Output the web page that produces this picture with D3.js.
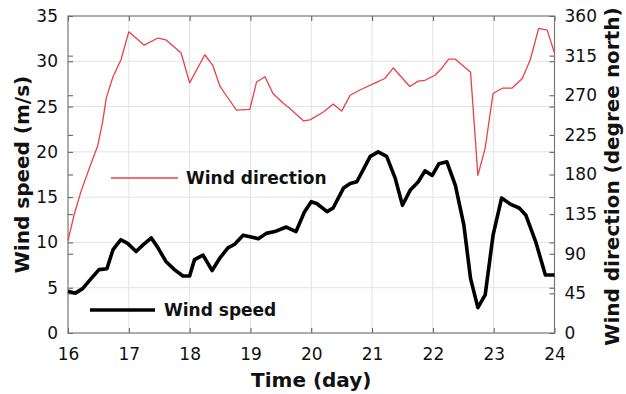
<!DOCTYPE html>
<html>
<head>
<meta charset="utf-8">
<script src="https://cdn.jsdelivr.net/npm/d3@7"></script>
<style>
  html, body { margin: 0; padding: 0; background: #fff; }
  svg { display: block; }
  text { font-family: "DejaVu Sans", Verdana, sans-serif; fill: #111; }
</style>
</head>
<body>
<svg id="chart" width="626" height="394"></svg>
<script>
// Wind direction (degrees from north) sampled along days 16–24
const dirDays = [16.00, 16.10, 16.21, 16.35, 16.49, 16.57, 16.63, 16.74, 16.87, 17.00,
  17.25, 17.48, 17.61, 17.86, 18.00, 18.25, 18.38, 18.50, 18.60, 18.77,
  18.99, 19.10, 19.24, 19.37, 19.54, 19.65, 19.87, 19.98, 20.20, 20.36,
  20.50, 20.64, 20.80, 21.08, 21.21, 21.35, 21.62, 21.76, 21.87, 22.04,
  22.15, 22.26, 22.37, 22.62, 22.74, 22.86, 22.99, 23.14, 23.30, 23.47,
  23.60, 23.74, 23.88, 24.00];
const dirValues = [105, 134, 160, 187, 213, 240, 267, 291, 310, 342,
  327, 335, 333, 318, 284, 316, 304, 280, 270, 253,
  254, 285, 291, 272, 261, 255, 241, 242, 251, 260,
  252, 270, 276, 285, 289, 301, 280, 286, 287, 293,
  301, 311, 311, 296, 179, 210, 272, 278, 278, 289,
  310, 346, 344, 318];

// Wind speed (m/s) sampled along days 16–24
const speedDays = [16.00, 16.12, 16.24, 16.38, 16.51, 16.64, 16.74, 16.87, 16.98, 17.12,
  17.23, 17.37, 17.48, 17.61, 17.75, 17.89, 18.00, 18.08, 18.22, 18.37,
  18.50, 18.63, 18.74, 18.88, 19.01, 19.13, 19.26, 19.40, 19.59, 19.75,
  19.89, 20.00, 20.09, 20.26, 20.36, 20.53, 20.64, 20.75, 20.97, 21.10,
  21.24, 21.38, 21.50, 21.63, 21.76, 21.87, 21.99, 22.10, 22.23, 22.37,
  22.51, 22.62, 22.74, 22.86, 22.99, 23.13, 23.28, 23.42, 23.53, 23.69,
  23.85, 24.00];
const speedValues = [4.6, 4.4, 4.9, 6.0, 7.0, 7.1, 9.2, 10.3, 9.9, 9.0,
  9.7, 10.5, 9.4, 7.9, 7.0, 6.3, 6.3, 8.1, 8.6, 6.9,
  8.3, 9.4, 9.8, 10.8, 10.6, 10.4, 11.0, 11.2, 11.7, 11.2,
  13.4, 14.5, 14.3, 13.4, 13.8, 16.0, 16.5, 16.7, 19.5, 20.0,
  19.5, 17.1, 14.1, 15.8, 16.7, 17.9, 17.4, 18.7, 18.9, 16.3,
  11.9, 6.0, 2.8, 4.2, 10.8, 14.9, 14.2, 13.8, 13.0, 10.1,
  6.4, 6.4];

// Axis ticks
const dayTicks = [16, 17, 18, 19, 20, 21, 22, 23, 24];
const speedTicks = [0, 5, 10, 15, 20, 25, 30, 35];
const dirTicks = [0, 45, 90, 135, 180, 225, 270, 315, 360];

// Legend labels
const legendLabels = ["Wind direction", "Wind speed"];

const W = 626, H = 394;
const m = { left: 68, right: 71.5, top: 16, bottom: 61 };
const iw = W - m.left - m.right, ih = H - m.top - m.bottom;

const svg = d3.select("#chart");
const g = svg.append("g").attr("transform", `translate(${m.left},${m.top})`);

const x = d3.scaleLinear().domain([16, 24]).range([0, iw]);
const yL = d3.scaleLinear().domain([0, 35]).range([ih, 0]);
const yR = d3.scaleLinear().domain([0, 360]).range([ih, 0]);

// grid
const grid = g.append("g").attr("stroke", "#e3e3e3").attr("stroke-width", 1);
grid.selectAll("line.v").data(dayTicks.slice(1, -1)).join("line")
  .attr("x1", d => x(d)).attr("x2", d => x(d)).attr("y1", 0).attr("y2", ih);
grid.selectAll("line.h").data(speedTicks.slice(1, -1)).join("line")
  .attr("x1", 0).attr("x2", iw).attr("y1", d => yL(d)).attr("y2", d => yL(d));

// axes (ticks drawn inward)
const tickLen = 5;
const fontSize = 17;
function styleAxis(sel) {
  sel.select(".domain").remove();
  sel.selectAll(".tick line").attr("stroke", "#555");
  sel.selectAll(".tick text").attr("font-size", fontSize).attr("fill", "#1a1a1a")
    .attr("font-family", "'DejaVu Sans', Verdana, sans-serif");
}

g.append("g").attr("transform", `translate(0,${ih})`)
  .call(d3.axisBottom(x).tickValues(dayTicks).tickFormat(d3.format("d"))
    .tickSizeInner(-tickLen).tickSizeOuter(0).tickPadding(15))
  .call(styleAxis);
g.append("g")
  .call(d3.axisTop(x).tickValues(dayTicks).tickFormat("")
    .tickSizeInner(-tickLen).tickSizeOuter(0))
  .call(styleAxis);

g.append("g")
  .call(d3.axisLeft(yL).tickValues(speedTicks).tickFormat(d3.format("d"))
    .tickSizeInner(-tickLen).tickSizeOuter(0).tickPadding(10))
  .call(styleAxis);
g.append("g").attr("transform", `translate(${iw},0)`)
  .call(d3.axisLeft(yL).tickValues(speedTicks).tickFormat("")
    .tickSizeInner(tickLen).tickSizeOuter(0))
  .call(styleAxis);

g.append("g").attr("transform", `translate(${iw},0)`)
  .call(d3.axisRight(yR).tickValues(dirTicks).tickFormat(d3.format("d"))
    .tickSizeInner(-tickLen).tickSizeOuter(0).tickPadding(10))
  .call(styleAxis);
g.append("g")
  .call(d3.axisRight(yR).tickValues(dirTicks).tickFormat("")
    .tickSizeInner(tickLen).tickSizeOuter(0))
  .call(styleAxis);

// plot box
g.append("rect").attr("x", 0).attr("y", 0).attr("width", iw).attr("height", ih)
  .attr("fill", "none").attr("stroke", "#777").attr("stroke-width", 1.2);

// series
const dirLine = d3.line().x((d, i) => x(dirDays[i])).y(d => yR(d));
const spdLine = d3.line().x((d, i) => x(speedDays[i])).y(d => yL(d));

g.append("path").datum(dirValues).attr("d", dirLine)
  .attr("fill", "none").attr("stroke", "#e8414b").attr("stroke-width", 1.3)
  .attr("stroke-linejoin", "round");
g.append("path").datum(speedValues).attr("d", spdLine)
  .attr("fill", "none").attr("stroke", "#000").attr("stroke-width", 3.6)
  .attr("stroke-linejoin", "round");

// legends
const leg = [
  { label: legendLabels[0], color: "#e8414b", w: 1.3, x0: 111, x1: 178, y: 178, tx: 186 },
  { label: legendLabels[1], color: "#000", w: 3.6, x0: 90, x1: 155, y: 310, tx: 164 }
];
leg.forEach(l => {
  svg.append("line").attr("x1", l.x0).attr("x2", l.x1).attr("y1", l.y).attr("y2", l.y)
    .attr("stroke", l.color).attr("stroke-width", l.w);
  svg.append("text").attr("x", l.tx).attr("y", l.y).attr("dy", "0.35em")
    .attr("font-size", 17).attr("font-weight", "bold").text(l.label);
});

// axis titles
svg.append("text").attr("x", m.left + iw / 2).attr("y", 380)
  .attr("text-anchor", "middle").attr("dy", "0.35em")
  .attr("font-size", 20).attr("font-weight", "bold").text("Time (day)");
svg.append("text")
  .attr("transform", `translate(22,${m.top + ih / 2}) rotate(-90)`)
  .attr("text-anchor", "middle").attr("dy", "0.35em")
  .attr("font-size", 20).attr("font-weight", "bold").text("Wind speed (m/s)");
svg.append("text")
  .attr("transform", `translate(612,${m.top + ih / 2 + 2}) rotate(-90)`)
  .attr("text-anchor", "middle").attr("dy", "0.35em")
  .attr("font-size", 20).attr("font-weight", "bold").text("Wind direction (degree north)");
</script>
</body>
</html>
